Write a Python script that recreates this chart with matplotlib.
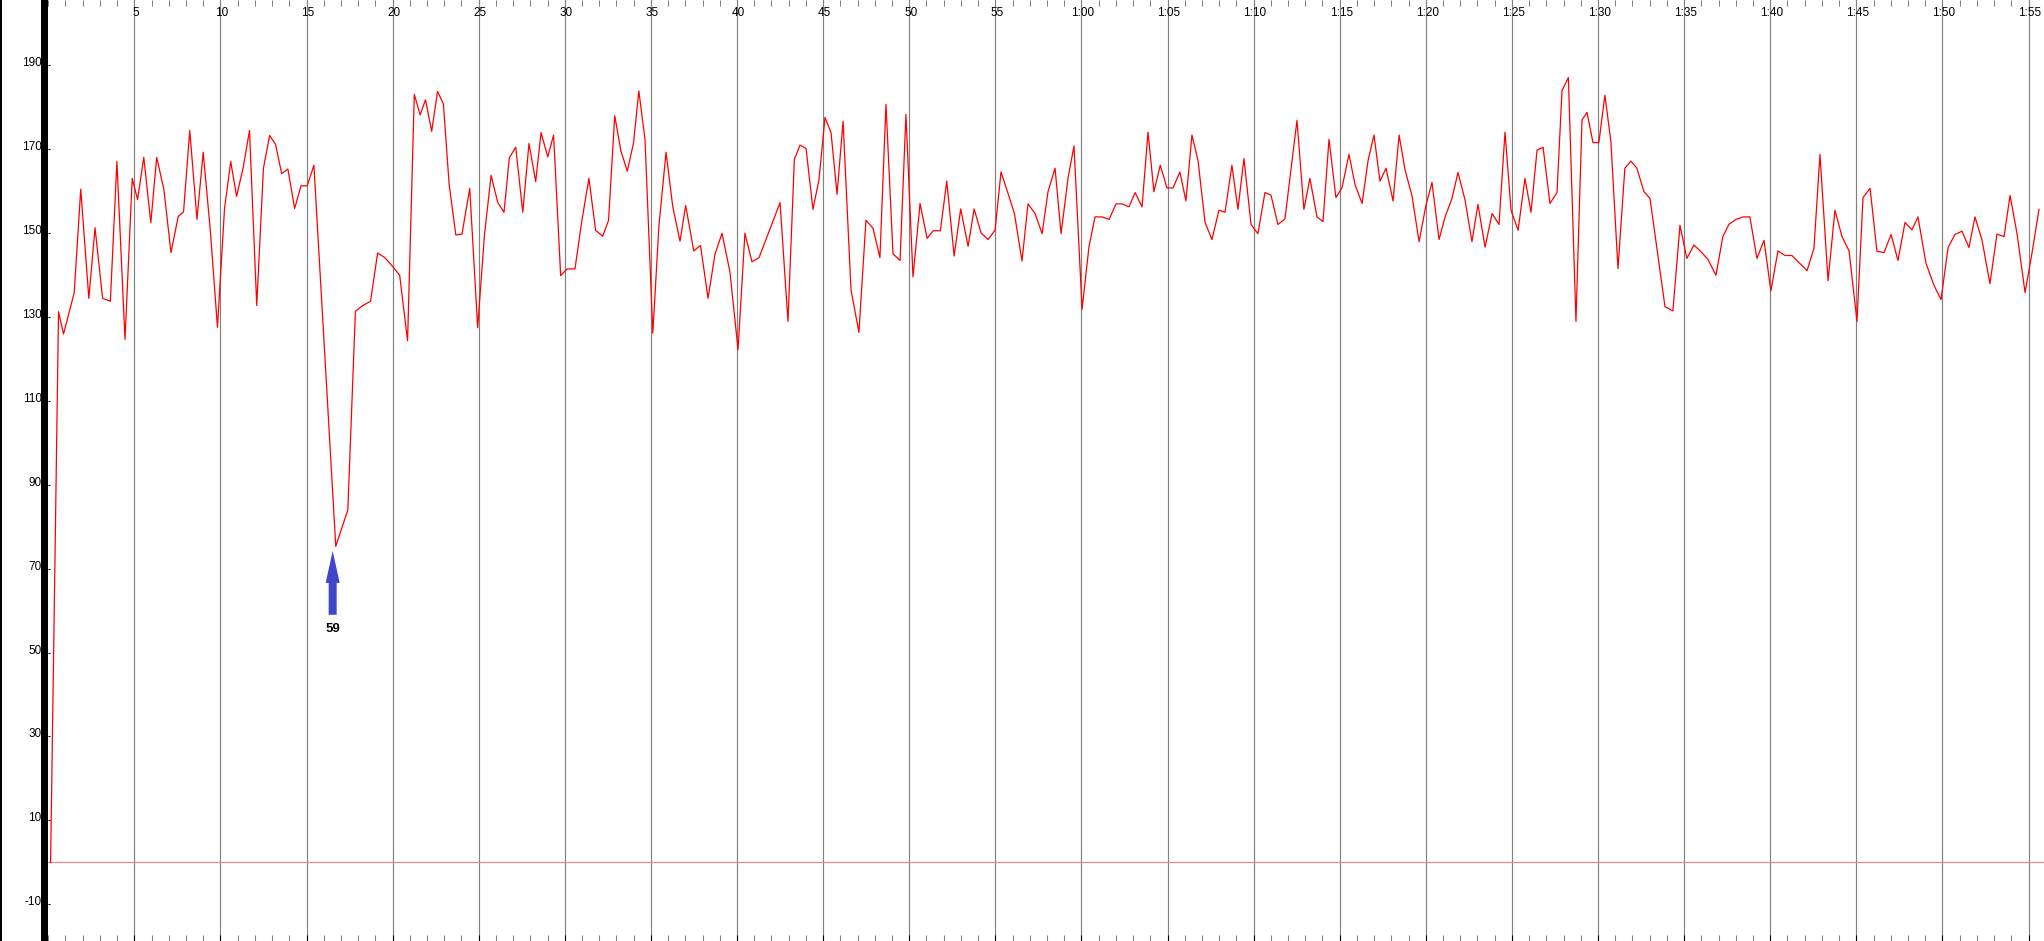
import matplotlib
matplotlib.use("Agg")
import matplotlib.pyplot as plt
import matplotlib.transforms as mtransforms
from matplotlib.patches import Rectangle, FancyArrow
from matplotlib.ticker import MultipleLocator

# ---------------- data ----------------
time_min = [
    0.14, 0.60, 0.89, 1.51, 1.89, 2.36, 2.72, 3.16, 3.61, 3.99,
    4.46, 4.88, 5.19, 5.55, 5.96, 6.30, 6.72, 7.13, 7.55, 7.86,
    8.22, 8.64, 9.00, 9.41, 9.83, 10.24, 10.60, 10.94, 11.33, 11.69,
    12.11, 12.50, 12.86, 13.20, 13.56, 13.92, 14.31, 14.68, 15.04, 15.43,
    16.70, 17.40, 17.84, 18.20, 18.72, 19.13, 19.55, 20.02, 20.41, 20.87,
    21.26, 21.60, 21.91, 22.27, 22.61, 22.95, 23.28, 23.67, 24.03, 24.48,
    24.94, 25.33, 25.72, 26.11, 26.47, 26.78, 27.15, 27.56, 27.92, 28.31,
    28.62, 29.01, 29.35, 29.76, 30.13, 30.59, 30.98, 31.40, 31.79, 32.20,
    32.54, 32.90, 33.26, 33.63, 33.99, 34.30, 34.66, 35.11, 35.47, 35.88,
    36.27, 36.69, 37.02, 37.49, 37.88, 38.32, 38.72, 39.13, 39.59, 40.06,
    40.46, 40.87, 41.28, 42.50, 42.96, 43.33, 43.66, 44.01, 44.41, 44.76,
    45.11, 45.46, 45.81, 46.16, 46.62, 47.08, 47.49, 47.90, 48.30, 48.65,
    49.06, 49.47, 49.81, 50.22, 50.63, 51.04, 51.40, 51.81, 52.18, 52.61,
    52.99, 53.42, 53.77, 54.17, 54.58, 54.99, 55.33, 55.74, 56.11, 56.55,
    56.90, 57.31, 57.72, 58.06, 58.47, 58.82, 59.23, 59.57, 60.04, 60.44,
    60.79, 61.20, 61.61, 62.01, 62.36, 62.77, 63.12, 63.52, 63.87, 64.21,
    64.58, 64.97, 65.32, 65.72, 66.07, 66.42, 66.77, 67.18, 67.58, 67.99,
    68.34, 68.74, 69.09, 69.44, 69.85, 70.25, 70.66, 71.01, 71.41, 71.82,
    72.52, 72.92, 73.27, 73.68, 74.03, 74.38, 74.78, 75.13, 75.54, 75.89,
    76.30, 76.65, 76.99, 77.34, 77.69, 78.10, 78.45, 78.79, 79.20, 79.61,
    80.01, 80.36, 80.77, 81.12, 81.52, 81.87, 82.28, 82.68, 83.03, 83.44,
    83.85, 84.25, 84.60, 84.95, 85.36, 85.76, 86.11, 86.46, 86.81, 87.21,
    87.62, 87.91, 88.28, 88.72, 89.07, 89.36, 89.71, 90.05, 90.40, 90.75,
    91.16, 91.56, 91.91, 92.26, 92.67, 93.02, 93.89, 94.35, 94.76, 95.16,
    95.57, 95.98, 96.38, 96.85, 97.25, 97.60, 98.01, 98.42, 98.82, 99.23,
    99.64, 100.04, 100.45, 100.86, 101.26, 102.14, 102.54, 102.89, 103.36, 103.76,
    104.17, 104.58, 105.04, 105.39, 105.80, 106.20, 106.61, 107.02, 107.42, 107.83,
    108.23, 108.58, 109.05, 109.51, 109.92, 110.33, 110.73, 111.14, 111.54, 111.89,
    112.30, 112.76, 113.17, 113.58, 113.93, 114.33, 114.80, 115.20, 115.61,
]
heart_rate = [
    0.0, 131.2, 125.9, 135.7, 160.4, 134.4, 151.2, 134.4, 133.7, 167.0,
    124.6, 163.0, 157.9, 168.0, 152.4, 168.0, 160.3, 145.3, 153.9, 155.0,
    174.4, 153.2, 169.2, 150.8, 127.5, 155.8, 167.0, 158.7, 165.7, 174.4,
    132.7, 165.4, 173.2, 171.1, 164.1, 165.2, 155.8, 161.2, 161.2, 166.1,
    75.3, 84.0, 131.3, 132.5, 133.7, 145.2, 144.1, 141.9, 139.9, 124.3,
    183.0, 178.1, 181.7, 174.2, 183.7, 180.7, 161.7, 149.5, 149.7, 160.6,
    127.4, 149.3, 163.7, 157.2, 154.9, 167.9, 170.4, 154.9, 171.3, 162.2,
    173.9, 168.1, 173.3, 139.8, 141.4, 141.4, 152.6, 163.0, 150.6, 149.2,
    153.0, 177.9, 169.5, 164.7, 171.4, 183.8, 172.2, 126.1, 151.9, 169.2,
    156.2, 148.0, 156.5, 145.7, 147.0, 134.4, 144.9, 149.9, 140.7, 122.2,
    149.9, 143.1, 144.1, 157.2, 128.9, 167.5, 170.9, 170.1, 155.6, 162.6,
    177.5, 173.9, 159.2, 176.6, 136.4, 126.3, 153.0, 151.1, 144.1, 180.6,
    145.0, 143.4, 178.2, 139.5, 157.0, 148.7, 150.5, 150.5, 162.3, 144.5,
    155.7, 146.8, 155.7, 150.0, 148.4, 150.7, 164.5, 159.4, 154.6, 143.3,
    156.9, 154.6, 149.8, 159.8, 165.4, 149.8, 163.2, 170.7, 131.8, 146.7,
    153.8, 153.8, 153.2, 156.9, 156.9, 156.2, 159.6, 156.2, 174.0, 159.8,
    166.1, 160.7, 160.7, 164.5, 157.6, 173.3, 167.3, 152.5, 148.4, 155.4,
    154.9, 166.1, 155.6, 167.7, 152.0, 149.8, 159.6, 159.0, 152.0, 153.3,
    176.8, 155.6, 163.0, 153.8, 152.7, 172.3, 158.4, 160.7, 168.7, 161.5,
    157.0, 167.3, 173.3, 162.3, 165.4, 157.6, 173.3, 165.1, 158.8, 147.9,
    156.6, 162.0, 148.4, 153.8, 158.2, 164.4, 157.8, 147.9, 156.8, 146.6,
    154.6, 152.0, 174.0, 155.4, 150.6, 163.0, 154.9, 169.7, 170.4, 157.0,
    159.6, 183.9, 187.0, 128.9, 176.9, 178.7, 171.5, 171.5, 182.8, 171.7,
    141.5, 165.4, 167.1, 165.4, 159.8, 158.2, 132.4, 131.4, 151.8, 143.9,
    147.1, 145.5, 143.7, 139.9, 149.1, 152.0, 153.2, 153.8, 153.8, 143.9,
    148.2, 136.2, 145.7, 144.6, 144.6, 141.0, 146.3, 168.7, 138.6, 155.4,
    149.1, 145.7, 128.9, 158.4, 160.6, 145.6, 145.3, 149.6, 143.4, 152.5,
    150.7, 153.8, 142.7, 137.5, 134.1, 146.5, 149.6, 150.4, 146.5, 153.8,
    148.3, 137.9, 149.7, 149.1, 158.9, 149.9, 135.8, 145.1, 155.6,
]
assert len(time_min) == len(heart_rate), (len(time_min), len(heart_rate))

x_major_ticks = list(range(5, 116, 5))
x_major_labels = ["5", "10", "15", "20", "25", "30", "35", "40", "45", "50", "55",
                  "1:00", "1:05", "1:10", "1:15", "1:20", "1:25", "1:30", "1:35",
                  "1:40", "1:45", "1:50", "1:55"]
y_ticks = [190, 170, 150, 130, 110, 90, 70, 50, 30, 10, -10]
y_labels = ["190", "170", "150", "130", "110", "90", "70", "50", "30", "10", "-10"]

marker_time = 16.52
marker_value = 59
marker_label = "59"

# ---------------- figure ----------------
W, H, DPI = 2044, 941, 100
fig = plt.figure(figsize=(W / DPI, H / DPI), dpi=DPI, facecolor="white")
left_px = 48.2
ax = fig.add_axes([left_px / W, 0, 1 - left_px / W, 1])
ax.set_facecolor("white")
for s in ax.spines.values():
    s.set_visible(False)

ax.set_xlim(0, 115.90)
ax.set_ylim(-18.73, 205.48)

plt.rcParams["font.family"] = ["Liberation Sans", "DejaVu Sans"]

# grid + ticks
ax.set_xticks(x_major_ticks)
ax.xaxis.set_minor_locator(MultipleLocator(1))
ax.grid(True, axis="x", which="major", color="#808080", linewidth=0.85, zorder=1)
ax.set_axisbelow(True)
ax.tick_params(axis="x", which="major", direction="in", length=4.3, width=0.75,
               color="black", top=False, bottom=True, labelbottom=False, labeltop=False)
ax.tick_params(axis="x", which="minor", direction="in", length=4.0, width=0.75,
               color="#808080", top=True, bottom=True)

ax.set_yticks(y_ticks)
ax.set_yticklabels(y_labels, fontfamily="Liberation Sans")
ax.tick_params(axis="y", direction="in", length=1.5, width=0.75, color="black",
               pad=4.7, labelsize=8.5, labelcolor="black")
for lab in ax.get_yticklabels():
    lab.set_transform(lab.get_transform() +
                      mtransforms.ScaledTranslation(0, 3.5 / DPI, fig.dpi_scale_trans))

# top time labels inside the plot
blend = mtransforms.blended_transform_factory(ax.transData, ax.transAxes)
shift = mtransforms.ScaledTranslation(1.5 / DPI, 0, fig.dpi_scale_trans)
for xv, lab in zip(x_major_ticks, x_major_labels):
    ax.text(xv, 1 - 13.3 / H, lab, transform=blend + shift, ha="center", va="center",
            fontsize=8.5, fontfamily="Liberation Sans", color="black")

# zero line and data
ax.axhline(0, color="#ff7f7f", linewidth=0.8, zorder=2)
ax.plot(time_min, heart_rate, color="#ff0000", linewidth=0.9, zorder=3)

# arrow marker pointing at the lowest reading of the session (after start-up)
dip_value = min(v for v in heart_rate if v > 0)
tip_value = dip_value - 1.1
arrow = FancyArrow(marker_time, marker_value, 0, tip_value - marker_value,
                   width=0.465, head_width=0.813, head_length=7.6,
                   length_includes_head=True, color="#4046c8", zorder=4, lw=0)
ax.add_patch(arrow)
ax.annotate(marker_label, xy=(marker_time, marker_value), xytext=(0, -14),
            textcoords="offset pixels", ha="center", va="center",
            fontsize=9.5, fontweight="bold", fontfamily="Liberation Sans", color="black")

# black left bars
fig.add_artist(Rectangle((41 / W, 0), 7.2 / W, 1, transform=fig.transFigure,
                         facecolor="black", edgecolor="none", zorder=5))
fig.add_artist(Rectangle((0, 0), 1.5 / W, 1, transform=fig.transFigure,
                         facecolor="black", edgecolor="none", zorder=5))

fig.savefig("out.png", dpi=DPI, facecolor="white")
